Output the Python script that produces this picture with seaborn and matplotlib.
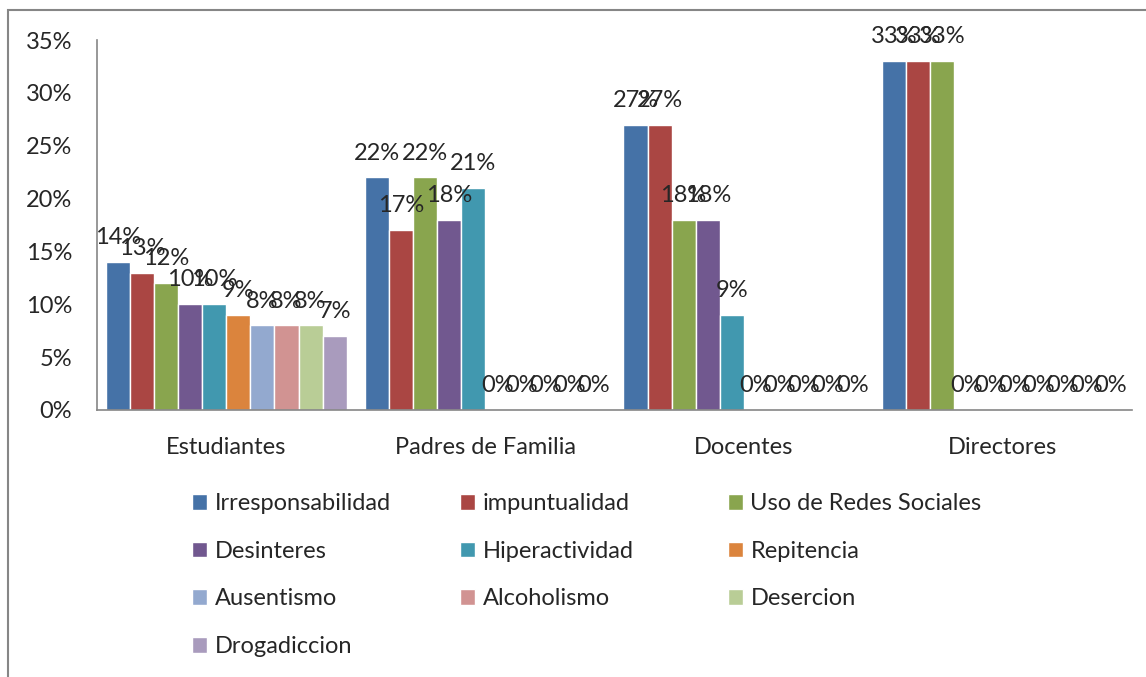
import matplotlib
matplotlib.use("Agg")
import matplotlib.pyplot as plt
from matplotlib.patches import Patch, Rectangle
import seaborn as sns
import pandas as pd

# data (percent)
groups = ["Estudiantes", "Padres de Familia", "Docentes", "Directores"]
series = ["Irresponsabilidad", "impuntualidad", "Uso de Redes Sociales", "Desinteres",
          "Hiperactividad", "Repitencia", "Ausentismo", "Alcoholismo", "Desercion",
          "Drogadiccion"]
irresponsabilidad = [14, 22, 27, 33]
impuntualidad = [13, 17, 27, 33]
redes_sociales = [12, 22, 18, 33]
desinteres = [10, 18, 18, 0]
hiperactividad = [10, 21, 9, 0]
repitencia = [9, 0, 0, 0]
ausentismo = [8, 0, 0, 0]
alcoholismo = [8, 0, 0, 0]
desercion = [8, 0, 0, 0]
drogadiccion = [7, 0, 0, 0]

colors = ["#4572A7", "#AA4643", "#89A54E", "#71588F", "#4198AF",
          "#DB843D", "#93A9CF", "#D19392", "#B9CD96", "#A99BBD"]

values = [irresponsabilidad, impuntualidad, redes_sociales, desinteres, hiperactividad,
          repitencia, ausentismo, alcoholismo, desercion, drogadiccion]
rows = []
for s, vals in zip(series, values):
    for g, v in zip(groups, vals):
        rows.append({"grupo": g, "serie": s, "valor": v / 100})
df = pd.DataFrame(rows)

sns.set_style("white")
plt.rcParams["font.family"] = ["Lato", "DejaVu Sans"]
fs = 17

fig = plt.figure(figsize=(11.46, 6.77), dpi=100)
ax = fig.add_axes([0.0846, 0.3944, 0.9031, 0.5465])

sns.barplot(data=df, x="grupo", y="valor", hue="serie", order=groups, hue_order=series,
            palette=colors, width=0.93, saturation=1, legend=False, ax=ax)

for cont, vals in zip(ax.containers, values):
    ax.bar_label(cont, labels=[f"{v}%" for v in vals], padding=10, fontsize=fs)

ax.set_ylim(0, 0.35)
ax.set_yticks([i * 0.05 for i in range(8)])
ax.set_yticklabels([f"{i * 5}%" for i in range(8)], fontsize=fs)
ax.set_xticklabels(groups, fontsize=fs)
ax.tick_params(axis="y", pad=18, length=0)
ax.tick_params(axis="x", pad=19.5, length=0)
ax.set_xlabel("")
ax.set_ylabel("")
for side in ["top", "right"]:
    ax.spines[side].set_visible(False)
for side in ["left", "bottom"]:
    ax.spines[side].set_color("#868686")
    ax.spines[side].set_linewidth(1.2)

# legend in three fixed-width columns, filled row-wise like the original
handles = [Patch(facecolor=c, label=s) for c, s in zip(colors, series)]
col_x = [192 / 1146, 460 / 1146, 728 / 1146]
for k, x0 in enumerate(col_x):
    idx = list(range(k, len(series), 3))
    leg = fig.legend([handles[i] for i in idx], [series[i] for i in idx],
                     loc="upper left", bbox_to_anchor=(x0, 0.2717), frameon=False,
                     fontsize=fs, handlelength=0.65, handleheight=0.65,
                     handletextpad=0.3, labelspacing=1.13, borderpad=0,
                     borderaxespad=0)

fig.patches.append(Rectangle((0.007, -0.02), 1.1, 1.005, transform=fig.transFigure,
                             fill=False, edgecolor="#868686", linewidth=1.5))

fig.savefig("out.png", dpi=100)
